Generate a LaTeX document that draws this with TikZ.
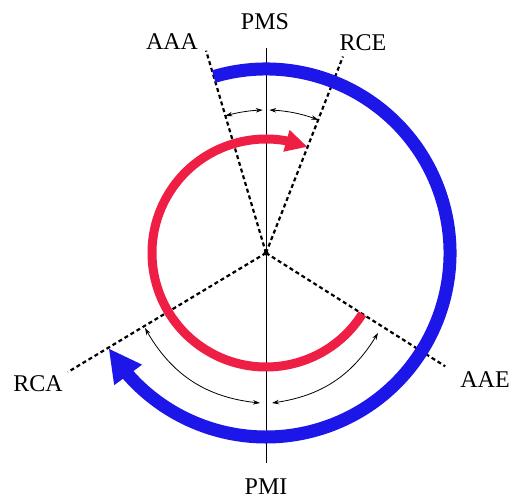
\documentclass[tikz,border=0pt]{standalone}
\usepackage{fontspec}
\setmainfont{Liberation Serif}
\usetikzlibrary{arrows.meta,bending}
\definecolor{bl}{RGB}{28,22,232}
\definecolor{rd}{RGB}{238,30,68}
\begin{document}
\begin{tikzpicture}[x=1pt,y=1pt,
  lbl/.style={font=\fontsize{24}{24}\selectfont, inner sep=0pt},
  axisline/.style={line width=1pt},
  dline/.style={line width=2.2pt, dash pattern=on 4pt off 3pt},
  small/.style={line width=0.8pt, {Stealth[length=7pt,width=4.5pt]}-{Stealth[length=7pt,width=4.5pt]}},
  bluearc/.style={bl, line width=13pt, -{Triangle[length=33pt,width=32pt]}},
  redarc/.style={rd, line width=9pt, -{Triangle[length=22pt,width=21pt]}}
  ]
\useasboundingbox (0,0) rectangle (513,500);
\coordinate (O) at (266,247);
% vertical axis
\coordinate (top) at (266,452);
\coordinate (bot) at (266,37);
\draw[axisline] (bot) -- (top);
% dashed lines
\coordinate (aaa) at ([shift={(106.5:211)}]O);
\coordinate (rce) at ([shift={(68.6:211)}]O);
\coordinate (rca) at ([shift={(211:231)}]O);
\coordinate (aae) at ([shift={(-32.3:212)}]O);
\draw[dline] (O) -- (aaa);
\draw[dline] (O) -- (rce);
\draw[dline] (O) -- (rca);
\draw[dline] (O) -- (aae);
% big arcs
\draw[bluearc] ([shift={(106.5:184)}]O) arc[start angle=106.5, end angle=-148.8, radius=184];
\draw[redarc] ([shift={(-32.3:114)}]O) arc[start angle=-32.3, end angle=-291.4, radius=114];
% small angle arrows
\draw[small] ([shift={(106.5:143)}]O) arc[start angle=106.5, end angle=91.3, radius=143];
\draw[small] ([shift={(88.7:143)}]O) arc[start angle=88.7, end angle=68.6, radius=143];
\coordinate (la) at (145,172);
\coordinate (lb) at (260,97);
\coordinate (ra) at (272,97);
\coordinate (rb) at (378,167);
\draw[small] (la) to[bend right=28] (lb);
\draw[small] (ra) to[bend right=26] (rb);
% center dot
\fill (O) circle[radius=2.5];
% labels
\node[lbl] (pms) at (265,478) {PMS};
\node[lbl] (pmi) at (266,13) {PMI};
\node[lbl] (laaa) at (172,458) {AAA};
\node[lbl] (lrce) at (363,457) {RCE};
\node[lbl] (lrca) at (38,116) {RCA};
\node[lbl] (laae) at (485,120) {AAE};
\end{tikzpicture}
\end{document}
